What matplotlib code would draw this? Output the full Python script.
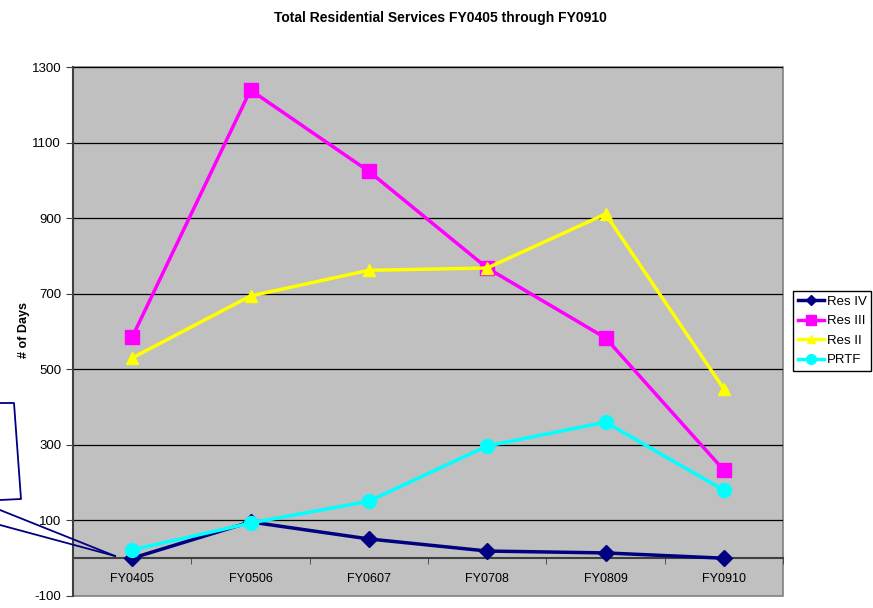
import matplotlib
matplotlib.use("Agg")
import matplotlib.pyplot as plt
from matplotlib.lines import Line2D
from matplotlib.patches import Rectangle

plt.rcParams["axes.unicode_minus"] = False

categories = ["FY0405", "FY0506", "FY0607", "FY0708", "FY0809", "FY0910"]
res_iv = [0, 96, 51, 19, 14, 0]
res_iii = [585, 1239, 1024, 768, 583, 233]
res_ii = [530, 694, 762, 768, 911, 448]
prtf = [22, 93, 151, 297, 360, 180]
yticks = [-100, 100, 300, 500, 700, 900, 1100, 1300]

W, H = 873, 608
fig = plt.figure(figsize=(W / 100, H / 100), dpi=100)
fig.patch.set_facecolor("white")
ax = fig.add_axes([73 / W, 1 - 596 / H, 710 / W, 529 / H])
ax.set_facecolor("#C0C0C0")

x = list(range(len(categories)))
series = [
    ("Res IV", res_iv, "#000080", "D", 8),
    ("Res III", res_iii, "#FF00FF", "s", 10),
    ("Res II", res_ii, "#FFFF00", "^", 9),
    ("PRTF", prtf, "#00FFFF", "o", 10),
]
handles = []
for name, vals, col, mk, ms in series:
    h, = ax.plot(x, vals, color=col, marker=mk, markersize=ms, linewidth=2.5,
                 markeredgecolor=col, label=name, zorder=3, clip_on=False)
    handles.append(h)

ax.set_xlim(-0.5, len(categories) - 0.5)
ax.set_ylim(-100, 1300)
ax.set_yticks(yticks)
for v in yticks[1:]:
    ax.axhline(v, color="black", linewidth=0.9, zorder=1)

# x axis at zero
ax.spines["bottom"].set_position(("data", 0))
ax.spines["bottom"].set_color("#404040")
ax.spines["bottom"].set_linewidth(1.5)
ax.spines["left"].set_color("#404040")
ax.spines["left"].set_linewidth(1.5)
ax.spines["top"].set_visible(False)
ax.spines["right"].set_visible(False)
ax.add_patch(Rectangle((0, 0), 1, 1, transform=ax.transAxes, fill=False,
                       edgecolor="#808080", linewidth=1.2, zorder=0.5, clip_on=False))

ax.set_xticks(x)
ax.set_xticklabels(categories, fontsize=9, family="Liberation Sans")
ax.set_xticks([i + 0.5 for i in range(len(categories) - 1)] + [-0.5, len(categories) - 0.5], minor=True)
ax.tick_params(axis="x", which="major", length=0, pad=11)
ax.tick_params(axis="x", which="minor", length=4, direction="out", color="#404040")
ax.tick_params(axis="y", length=5, direction="out", color="#404040", labelsize=9.5)
for t in ax.get_yticklabels():
    t.set_family("Liberation Sans")

fig.text(24 / W, 1 - 330 / H, "# of Days", rotation=90, ha="center", va="center",
         fontsize=9, fontweight="bold", family="Liberation Sans")
fig.text(440 / W, 1 - 18 / H, "Total Residential Services FY0405 through FY0910",
         ha="center", va="center", fontsize=10, fontweight="bold", family="Liberation Sans")

leg = fig.legend(handles=handles, loc="upper left", bbox_to_anchor=(793 / W, 1 - 291 / H),
                 fancybox=False, edgecolor="black", framealpha=1,
                 prop={"family": "Liberation Sans", "size": 9.5}, markerscale=0.7,
                 handlelength=2.0, handletextpad=0.2, borderpad=0.35, labelspacing=0.55,
                 borderaxespad=0)
leg.get_frame().set_linewidth(1)

# callout decoration
def fp(px, py):
    return px / W, 1 - py / H

navy = "#000080"
pts = [fp(0, 403), fp(14, 403), fp(21, 499), fp(0, 500)]
fig.add_artist(Line2D([p[0] for p in pts], [p[1] for p in pts], color=navy, linewidth=1.3))
for sy in (510, 525):
    a, b = fp(0, sy), fp(115, 556)
    fig.add_artist(Line2D([a[0], b[0]], [a[1], b[1]], color=navy, linewidth=1.3))

fig.savefig("out.png", dpi=100)
